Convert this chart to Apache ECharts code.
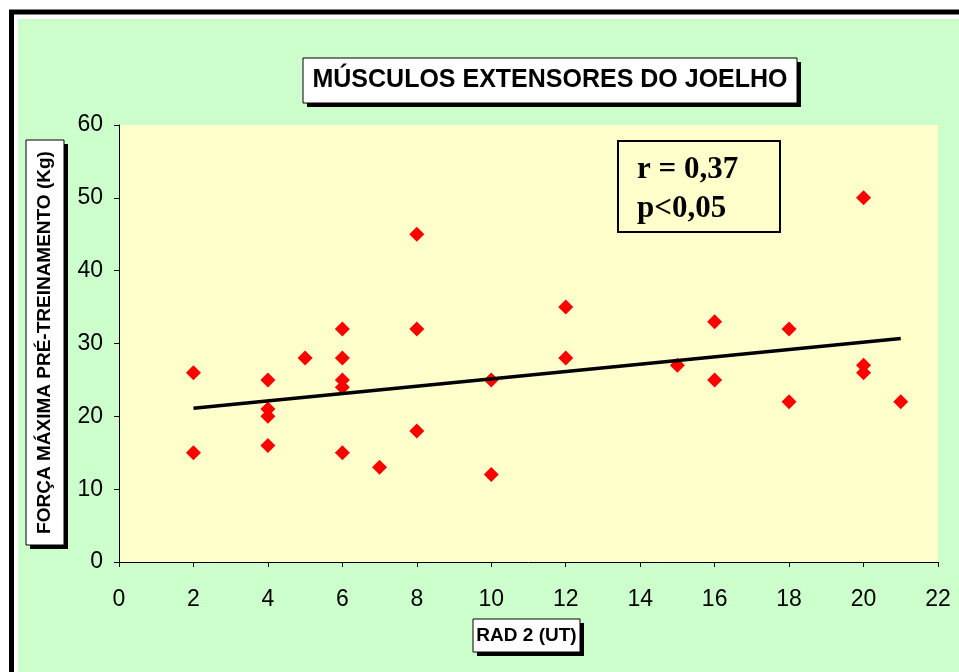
<!DOCTYPE html>
<html>
<head>
<meta charset="utf-8">
<script src="https://cdn.jsdelivr.net/npm/echarts@6/dist/echarts.min.js"></script>
<style>
  html, body { margin: 0; padding: 0; background: #fff; }
  #chart { width: 959px; height: 672px; }
</style>
</head>
<body>
<div id="chart"></div>
<script>
// RAD 2 (UT) vs força máxima pré-treinamento (Kg)
const radValues = [2, 2, 4, 4, 4, 4, 5, 6, 6, 6, 6, 6, 7, 8, 8, 8, 10, 10, 12, 12, 15, 16, 16, 18, 18, 20, 20, 20, 21];
const forceValues = [26, 15, 25, 21, 20, 16, 28, 32, 28, 25, 24, 15, 13, 45, 32, 18, 25, 12, 35, 28, 27, 33, 25, 32, 22, 50, 27, 26, 22];
const trendX = [2, 21];
const trendY = [21.1, 30.7];
const statLines = ['r = 0,37', 'p<0,05'];

const points = radValues.map((x, i) => [x, forceValues[i]]);
const trend = trendX.map((x, i) => [x, trendY[i]]);

const chart = echarts.init(document.getElementById('chart'));

const tickFont = {
  color: '#000',
  fontFamily: 'Liberation Sans, Arial, sans-serif',
  fontSize: 23,
};

// caixa com sombra, estilo Excel
function shadowBox(x, y, w, h, text, font, rotate) {
  return {
    type: 'group',
    children: [
      { type: 'rect', shape: { x: x + 4, y: y + 4, width: w, height: h }, style: { fill: '#000' } },
      { type: 'rect', shape: { x: x, y: y, width: w, height: h }, style: { fill: '#fff', stroke: '#000', lineWidth: 1 } },
      {
        type: 'text',
        x: x + w / 2,
        y: y + h / 2,
        rotation: rotate ? Math.PI / 2 : 0,
        style: {
          text: text,
          font: font,
          fill: '#000',
          align: 'center',
          verticalAlign: 'middle',
        },
      },
    ],
  };
}

const option = {
  animation: false,
  graphic: [
    { type: 'rect', z: -10, shape: { x: 11.5, y: 12, width: 1000, height: 1000 }, style: { fill: '#fff', stroke: '#000', lineWidth: 5 } },
    { type: 'rect', z: -9, shape: { x: 18, y: 19, width: 1000, height: 1000 }, style: { fill: '#CCFFCC' } },
    shadowBox(303, 58, 494, 45, 'MÚSCULOS EXTENSORES DO JOELHO', 'bold 25px Liberation Sans, Arial, sans-serif'),
    shadowBox(26, 140, 38, 405, 'FORÇA MÁXIMA PRÉ-TREINAMENTO (Kg)', 'bold 19px Liberation Sans, Arial, sans-serif', true),
    shadowBox(473, 619, 107, 33, 'RAD 2 (UT)', 'bold 19px Liberation Sans, Arial, sans-serif'),
    {
      type: 'group',
      z: 100,
      children: [
        { type: 'rect', shape: { x: 618, y: 141, width: 162, height: 91 }, style: { fill: '#FFFFCC', stroke: '#000', lineWidth: 2 } },
        {
          type: 'text',
          x: 637,
          y: 170,
          style: { text: statLines[0], font: 'bold 31px Liberation Serif, Times New Roman, serif', fill: '#000', verticalAlign: 'middle' },
        },
        {
          type: 'text',
          x: 637,
          y: 209,
          style: { text: statLines[1], font: 'bold 31px Liberation Serif, Times New Roman, serif', fill: '#000', verticalAlign: 'middle' },
        },
      ],
    },
  ],
  grid: {
    left: 119,
    right: 21,
    top: 125,
    bottom: 110,
    show: true,
    backgroundColor: '#FFFFCC',
    borderWidth: 0,
  },
  xAxis: {
    type: 'value',
    min: 0,
    max: 22,
    interval: 2,
    axisLine: { show: true, lineStyle: { color: '#000', width: 1 } },
    axisTick: { show: true, length: 5, lineStyle: { color: '#000' } },
    axisLabel: { ...tickFont, margin: 26 },
    splitLine: { show: false },
  },
  yAxis: {
    type: 'value',
    min: 0,
    max: 60,
    interval: 10,
    axisLine: { show: true, lineStyle: { color: '#000', width: 1 } },
    axisTick: { show: true, length: 5, lineStyle: { color: '#000' } },
    axisLabel: { ...tickFont, margin: 16 },
    splitLine: { show: false },
  },
  series: [
    {
      type: 'scatter',
      data: points,
      symbol: 'diamond',
      symbolSize: 15,
      itemStyle: { color: '#FF0000', opacity: 1 },
      z: 3,
    },
    {
      type: 'line',
      data: trend,
      symbol: 'none',
      lineStyle: { color: '#000', width: 3.5 },
      z: 4,
    },
  ],
};

chart.setOption(option);
</script>
</body>
</html>
